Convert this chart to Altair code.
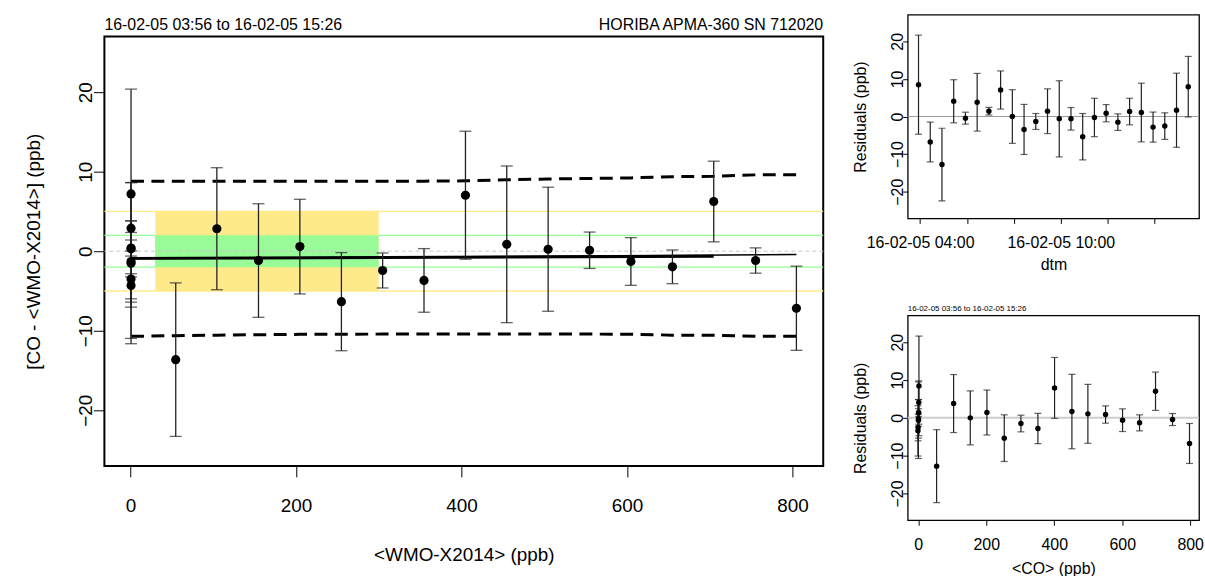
import altair as alt
import pandas as pd

FONT = "Liberation Sans"

# ---------------- measurements (time order) ----------------
times = ["03:56", "04:26", "04:56", "05:26", "05:56", "06:26", "06:56", "07:26",
         "07:56", "08:26", "08:56", "09:26", "09:56", "10:26", "10:56", "11:26",
         "11:56", "12:26", "12:56", "13:26", "13:56", "14:26", "14:56", "15:26"]
level = [0, 800, 50, 0, 750, 100, 0, 700, 150, 0, 650, 200,
         0, 600, 250, 0, 550, 300, 0, 500, 350, 0, 450, 400]
wmo_x = [0.8, 804.8, 54.8, 0.8, 755.5, 104.5, 0.8, 704.9, 154.8, 0.8, 655.0, 204.8,
         0.8, 604.8, 255.0, 0.8, 554.9, 304.8, 0.8, 504.8, 354.8, 0.8, 454.8, 404.9]
co_x = [2.0, 798, 54, 1.5, 748, 104, 1.0, 698, 153, -1.0, 651, 202,
        0.5, 601, 253, 0.5, 551, 302, 1.0, 499, 352, -0.5, 452, 401]
diff_y = [7.2, -7.17, -13.63, 2.9, -1.17, 2.83, 0.4, 6.25, -1.17, -4.3, -1.96, 0.58,
          -1.5, -1.29, -6.34, -1.3, 0.12, -2.42, 0.3, 0.25, -3.67, -3.5, 0.87, 7.04]
resid = [8.46, -6.78, -12.78, 4.05, -0.44, 3.79, 1.41, 7.05, 0.0, -3.44, -1.32, 1.41,
         -0.62, -0.62, -5.37, -0.26, 0.88, -1.5, 1.32, 1.06, -2.82, -2.55, 1.67, 7.93]
unc = [13.18, 5.29, 9.65, 5.73, 1.59, 7.67, 1.01, 5.07, 7.14, 6.66, 2.12, 5.95,
       10.13, 3.0, 6.17, 5.1, 2.29, 2.2, 3.53, 7.8, 4.0, 3.53, 9.85, 8.05]

# ---------------- reference bands ----------------
band_x = [30, 300]
band_yellow = [-5, 5]
band_green = [-2, 2]

# ---------------- interval curves and fit ----------------
curve_x = [0.8, 54.8, 104.5, 154.8, 204.8, 255.0, 304.8, 354.8, 404.9,
           454.8, 504.8, 554.9, 604.8, 655.0, 704.9, 755.5, 804.8]
upper = [8.79, 8.79, 8.8, 8.8, 8.8, 8.8, 8.8, 8.81, 8.85,
         8.98, 9.08, 9.15, 9.22, 9.37, 9.42, 9.6, 9.62]
lower = [-10.7, -10.62, -10.55, -10.5, -10.45, -10.43, -10.42, -10.42, -10.42,
         -10.42, -10.42, -10.42, -10.43, -10.55, -10.57, -10.68, -10.7]
fit_thick_x = [0.8, 704.9]
fit_thick_y = [-0.9, -0.63]
fit_thin_x = [0.8, 804.8]
fit_thin_y = [-0.95, -0.42]

hdr_left = "16-02-05 03:56 to 16-02-05 15:26"
hdr_right = "HORIBA APMA-360 SN 712020"

YELLOW = "#FFEA8A"
GREEN = "#98FB98"

meas = pd.DataFrame({
    "t": ["2016-02-05T" + s + ":00" for s in times],
    "level": level, "wmo": wmo_x, "co": co_x,
    "dy": diff_y, "res": resid, "u": unc,
})


def axis(**kw):
    base = dict(domain=False, grid=False, tickColor="black", tickWidth=1,
                labelColor="black", titleColor="black", labelFont=FONT,
                titleFont=FONT, titleFontWeight="normal", labelOverlap=False,
                labelFlush=False)
    base.update(kw)
    return alt.Axis(**base)


def text_layer(s, align, x, y, size):
    return alt.Chart(pd.DataFrame({"s": [s]})).mark_text(
        align=align, baseline="alphabetic", font=FONT, fontSize=size,
        color="black").encode(text="s:N", x=alt.value(x), y=alt.value(y))


# ================= main panel =================
mx = alt.Scale(domain=[-31.4, 837.2], nice=False, zero=False)
my = alt.Scale(domain=[-27, 27], nice=False, zero=False)
mxa = axis(values=[0, 200, 400, 600, 800], tickSize=11, labelPadding=19.3,
           labelFontSize=19, labelBaseline="top",
           title="<WMO-X2014> (ppb)", titleFontSize=19, titleBaseline="alphabetic",
           titlePadding=45, minExtent=50, maxExtent=50)
mya = axis(values=[-20, -10, 0, 10, 20], tickSize=11, labelPadding=2,
           labelFontSize=19, labelAngle=270, labelAlign="center",
           labelBaseline="alphabetic",
           title="[CO - <WMO-X2014>] (ppb)", titleFontSize=19, titleAngle=270,
           titleBaseline="alphabetic", titlePadding=33, minExtent=32, maxExtent=32)


def MX(f):
    return alt.X(f, scale=mx, axis=mxa)


def MY(f):
    return alt.Y(f, scale=my, axis=mya)


def band(ylims, color):
    df = pd.DataFrame({"x1": [band_x[0]], "x2": [band_x[1]],
                       "y1": [ylims[0]], "y2": [ylims[1]]})
    return alt.Chart(df).mark_rect(color=color, opacity=1).encode(
        x=MX("x1:Q"), x2="x2:Q", y=MY("y1:Q"), y2="y2:Q")


def hline(vals, color, width, dash=None):
    kw = dict(color=color, strokeWidth=width)
    if dash:
        kw["strokeDash"] = dash
    return alt.Chart(pd.DataFrame({"y": vals})).mark_rule(**kw).encode(y=MY("y:Q"))


curves = pd.DataFrame({"x": curve_x + curve_x, "y": upper + lower,
                       "which": ["upper"] * len(curve_x) + ["lower"] * len(curve_x)})
curve_layer = alt.Chart(curves).mark_line(
    color="black", strokeWidth=3, strokeDash=[13, 7.5]).encode(
    x=MX("x:Q"), y=MY("y:Q"), detail="which:N")

fit_thick = alt.Chart(pd.DataFrame({"x": fit_thick_x, "y": fit_thick_y})).mark_line(
    color="black", strokeWidth=3).encode(x=MX("x:Q"), y=MY("y:Q"))
fit_thin = alt.Chart(pd.DataFrame({"x": fit_thin_x, "y": fit_thin_y})).mark_line(
    color="black", strokeWidth=1.5).encode(x=MX("x:Q"), y=MY("y:Q"))

mbase = alt.Chart(meas).transform_calculate(
    lo="datum.dy - datum.u", hi="datum.dy + datum.u")
m_err = mbase.mark_rule(color="#222222", strokeWidth=1.3).encode(
    x=MX("wmo:Q"), y=MY("lo:Q"), y2="hi:Q")
m_cap_lo = mbase.mark_tick(orient="horizontal", size=12, thickness=1.3,
                           color="#222222").encode(x=MX("wmo:Q"), y=MY("lo:Q"))
m_cap_hi = mbase.mark_tick(orient="horizontal", size=12, thickness=1.3,
                           color="#222222").encode(x=MX("wmo:Q"), y=MY("hi:Q"))
m_pts = alt.Chart(meas).mark_circle(size=85, color="black", opacity=1).encode(
    x=MX("wmo:Q"), y=MY("dy:Q"))

main = alt.layer(
    hline([5, -5], YELLOW, 1.3),
    hline([2, -2], GREEN, 1.3),
    band(band_yellow, YELLOW),
    band(band_green, GREEN),
    hline([0], "#C8C8C8", 1, [4, 3]),
    curve_layer, fit_thin, fit_thick,
    m_err, m_cap_lo, m_cap_hi, m_pts,
).properties(width=723, height=432,
             view=alt.ViewBackground(stroke="black", strokeWidth=2))

header = alt.layer(
    text_layer(hdr_left, "left", 0, 15.7, 16),
    text_layer(hdr_right, "right", 723, 15.7, 16),
).properties(width=723, height=21,
             view=alt.ViewBackground(strokeOpacity=0, strokeWidth=0))

left = alt.vconcat(header, main, spacing=0)

# ================= residual panels =================
ry = alt.Scale(domain=[-27.1, 27.1], nice=False, zero=False)
rya = axis(values=[-20, -10, 0, 10, 20], tickSize=5, labelPadding=0,
           labelFontSize=16, labelAngle=270, labelAlign="center",
           labelBaseline="alphabetic",
           title="Residuals (ppb)", titleFontSize=16, titleAngle=270,
           titleBaseline="alphabetic", titlePadding=21.7, minExtent=21, maxExtent=21)

tx = alt.Scale(domain=[alt.DateTime(year=2016, month=2, date=5, hours=3, minutes=28, seconds=24),
                       alt.DateTime(year=2016, month=2, date=5, hours=15, minutes=53, seconds=36)],
               nice=False)
txa = axis(values=[alt.DateTime(year=2016, month=2, date=5, hours=h) for h in [4, 6, 8, 10, 12, 14]],
           labelExpr="(hours(datum.value) == 4 || hours(datum.value) == 10) ? timeFormat(datum.value, '%y-%m-%d %H:%M') : ''",
           tickSize=5, labelPadding=11, labelFontSize=16, labelBaseline="top",
           title="dtm", titleFontSize=16, titleBaseline="alphabetic",
           titlePadding=19, minExtent=32, maxExtent=32)

cx = alt.Scale(domain=[-31, 826], nice=False, zero=False)
cxa = axis(values=[0, 200, 400, 600, 800], tickSize=5, labelPadding=11,
           labelFontSize=16, labelBaseline="top",
           title="<CO> (ppb)", titleFontSize=16, titleBaseline="alphabetic",
           titlePadding=22, minExtent=32, maxExtent=32)


def resid_panel(xfield, xscale, xaxis, zero_color, zero_width, w, h, title=None):
    X = lambda f: alt.X(f, scale=xscale, axis=xaxis)
    Y = lambda f: alt.Y(f, scale=ry, axis=rya)
    base = alt.Chart(meas).transform_calculate(
        lo="datum.res - datum.u", hi="datum.res + datum.u")
    zero = alt.Chart(pd.DataFrame({"y": [0]})).mark_rule(
        color=zero_color, strokeWidth=zero_width).encode(y=Y("y:Q"))
    err = base.mark_rule(color="#222222", strokeWidth=1.2).encode(
        x=X(xfield), y=Y("lo:Q"), y2="hi:Q")
    cap_lo = base.mark_tick(orient="horizontal", size=7, thickness=1.2,
                            color="#222222").encode(x=X(xfield), y=Y("lo:Q"))
    cap_hi = base.mark_tick(orient="horizontal", size=7, thickness=1.2,
                            color="#222222").encode(x=X(xfield), y=Y("hi:Q"))
    pts = alt.Chart(meas).mark_circle(size=30, color="black", opacity=1).encode(
        x=X(xfield), y=Y("res:Q"))
    layers = [zero, err, cap_lo, cap_hi, pts]
    if title:
        layers.append(text_layer(title, "left", 0, -4.3, 8))
    return alt.layer(*layers).properties(
        width=w, height=h,
        view=alt.ViewBackground(stroke="black", strokeWidth=1.3))


time_panel = resid_panel("t:T", tx, txa, "#9A9A9A", 1, 293, 205)
co_panel = resid_panel("co:Q", cx, cxa, "#CCCCCC", 2, 293, 206, title=hdr_left)

right = alt.vconcat(time_panel, co_panel, spacing=31.6)

chart = alt.hconcat(left, right, spacing=26).properties(
    padding={"left": 23, "top": 12, "right": 0, "bottom": 0}
).configure_view(stroke="black")

chart.save("out.html", embed_options={"renderer": "svg", "actions": False})
